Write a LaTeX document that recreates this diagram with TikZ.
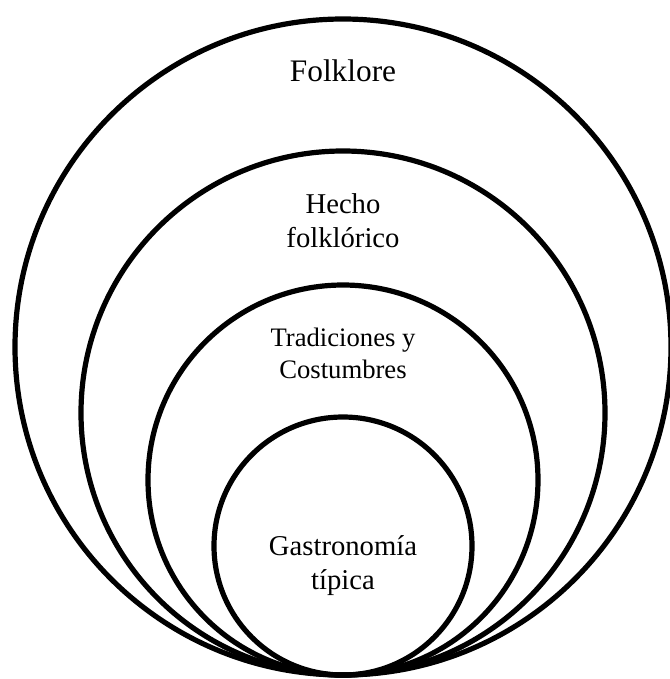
\documentclass[tikz,border=0pt]{standalone}
\usepackage{fontspec}
\setmainfont{Liberation Serif}
\begin{document}
\begin{tikzpicture}[x=0.75pt,y=-0.75pt,
  ring/.style={draw=black,line width=3.9pt},
  lbl/.style={align=center,inner sep=0pt,font=\fontsize{21.5}{25.5}\selectfont}]
\useasboundingbox (0,0) rectangle (670,679);
\draw[ring] (343,347) circle[radius=246pt];
\draw[ring] (343,413) circle[radius=196.5pt];
\draw[ring] (343,480) circle[radius=146.25pt];
\draw[ring] (343,546) circle[radius=96.75pt];
\node[lbl,font=\fontsize{23.5}{28}\selectfont,anchor=base] (folk) at (343,81) {Folklore};
\node[lbl] (hecho) at (343,221) {Hecho\\folklórico};
\node[lbl,font=\fontsize{20}{24}\selectfont] (trad) at (343,353) {Tradiciones y\\Costumbres};
\node[lbl] (gastro) at (343,566) {Gastronomía\\típica};
\end{tikzpicture}
\end{document}
